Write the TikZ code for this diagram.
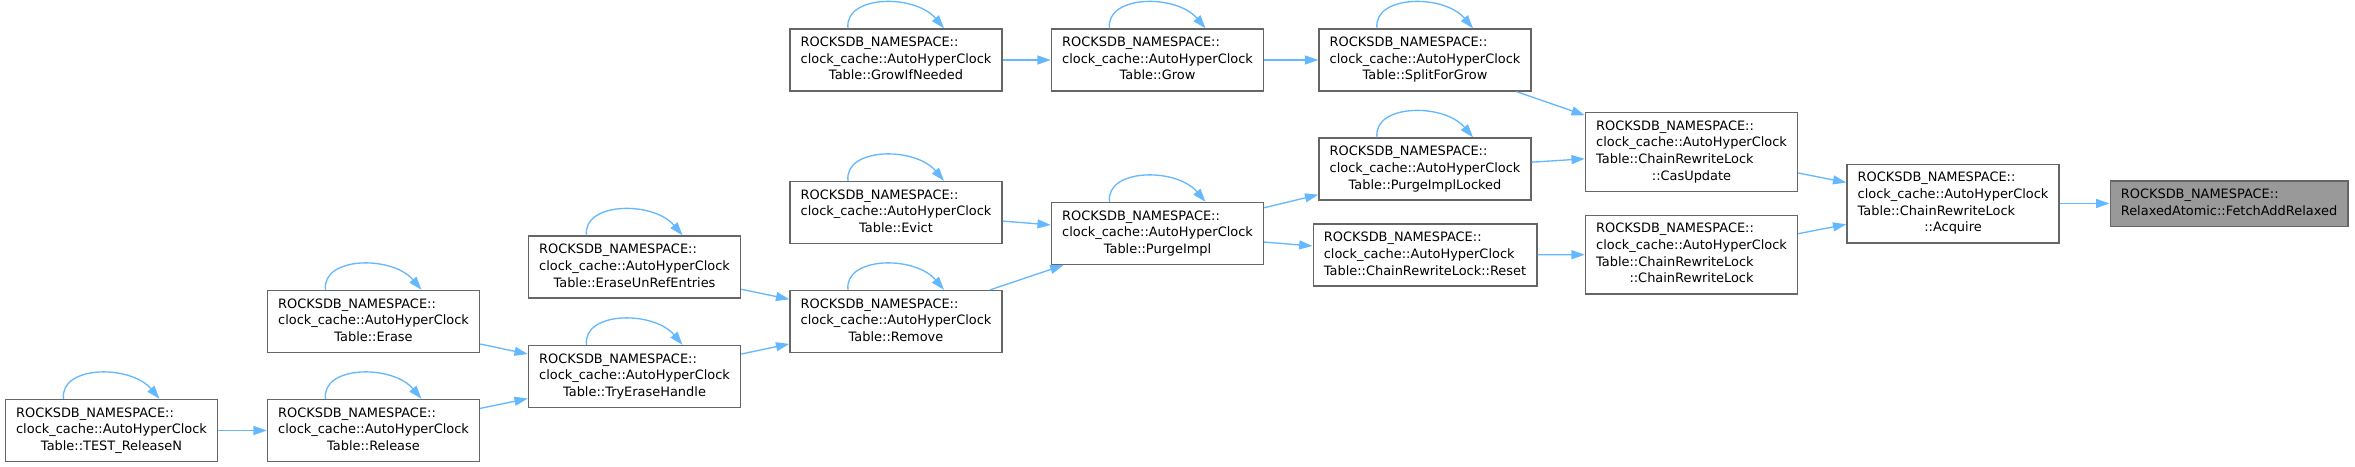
\documentclass[tikz,border=0pt]{standalone}
\usepackage{fontspec}
\setmainfont{DejaVu Sans}
\usetikzlibrary{arrows.meta}

\definecolor{edgeblue}{HTML}{63B8FF}
\definecolor{boxline}{HTML}{666666}
\definecolor{hilite}{HTML}{999999}

\newcommand{\ahc}[1]{\begin{tabular}{@{}l@{}}ROCKSDB\_NAMESPACE::\\clock\_cache::AutoHyperClock\\\multicolumn{1}{@{}c@{}}{Table::#1}\end{tabular}}
\newcommand{\crl}[1]{\begin{tabular}{@{}l@{}}ROCKSDB\_NAMESPACE::\\clock\_cache::AutoHyperClock\\Table::ChainRewriteLock\\\multicolumn{1}{@{}c@{}}{::#1}\end{tabular}}
\newcommand{\selfcall}[1]{\draw[call] ([xshift=-36pt]#1.north) .. controls +(-3pt,25pt) and +(-22pt,26pt) .. ([xshift=36pt]#1.north);}

\tikzset{
  fn/.style={draw=boxline, fill=white, line width=1pt, inner xsep=8pt, inner ysep=4.5pt,
    font=\fontsize{9.7}{12.5}\selectfont},
  hit/.style={fn, fill=hilite},
  call/.style={draw=edgeblue, line width=1pt, -{Triangle[length=10pt,width=6.7pt]}},
}

\begin{document}
\begin{tikzpicture}[x=0.75pt,y=-0.75pt]
\useasboundingbox (0,0) rectangle (2355,467);
\node[fn] (testrel) at (111.5,430.5) {\ahc{TEST\_ReleaseN}};
\node[fn] (erase) at (373.5,321.5) {\ahc{Erase}};
\node[fn] (release) at (373.5,430.5) {\ahc{Release}};
\node[fn] (eraseunref) at (634.5,267) {\ahc{EraseUnRefEntries}};
\node[fn] (tryerase) at (634.5,376.5) {\ahc{TryEraseHandle}};
\node[fn] (growifneeded) at (896,60) {\ahc{GrowIfNeeded}};
\node[fn] (evict) at (896,212.5) {\ahc{Evict}};
\node[fn] (remove) at (896,321.5) {\ahc{Remove}};
\node[fn] (grow) at (1157.5,60) {\ahc{Grow}};
\node[fn] (purge) at (1157.5,233.5) {\ahc{PurgeImpl}};
\node[fn] (split) at (1425,60) {\ahc{SplitForGrow}};
\node[fn] (purgelocked) at (1425,169) {\ahc{PurgeImplLocked}};
\node[fn] (reset) at (1425,255) {\ahc{ChainRewriteLock::Reset}};
\node[fn] (casupdate) at (1691.5,152) {\crl{CasUpdate}};
\node[fn] (ctor) at (1691.5,254.5) {\crl{ChainRewriteLock}};
\node[fn] (acquire) at (1953,203.5) {\crl{Acquire}};
\node[hit] (fetchadd) at (2229,203.5) {\begin{tabular}{@{}l@{}}ROCKSDB\_NAMESPACE::\\RelaxedAtomic::FetchAddRelaxed\end{tabular}};

\foreach \n in {testrel,erase,release,eraseunref,tryerase,growifneeded,evict,remove,grow,purge,split,purgelocked}
  {\selfcall{\n}}

\draw[call] (testrel) -- (release);
\draw[call] (erase) -- (tryerase);
\draw[call] (release) -- (tryerase);
\draw[call] (eraseunref) -- (remove);
\draw[call] (tryerase) -- (remove);
\draw[call] (growifneeded) -- (grow);
\draw[call] (evict) -- (purge);
\draw[call] (remove) -- (purge);
\draw[call] (grow) -- (split);
\draw[call] (purge) -- (purgelocked);
\draw[call] (purge) -- (reset);
\draw[call] (split) -- (casupdate);
\draw[call] (purgelocked) -- (casupdate);
\draw[call] (reset) -- (ctor);
\draw[call] (casupdate) -- (acquire);
\draw[call] (ctor) -- (acquire);
\draw[call] (acquire) -- (fetchadd);
\end{tikzpicture}
\end{document}
